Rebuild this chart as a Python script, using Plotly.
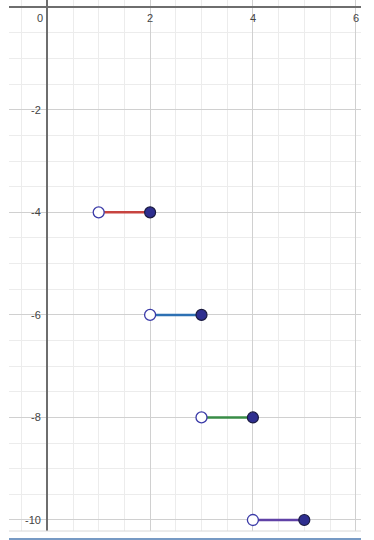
import plotly.graph_objects as go

# data
starts = [1, 2, 3, 4]
ends = [2, 3, 4, 5]
levels = [-4, -6, -8, -10]
colors = ["#c74440", "#2d70b3", "#388c46", "#6042a6"]
x_tick_vals = [0, 2, 4, 6]
y_tick_vals = [-2, -4, -6, -8, -10]

fig = go.Figure()

for a, b, y, c in zip(starts, ends, levels, colors):
    fig.add_trace(go.Scatter(x=[a, b], y=[y, y], mode="lines",
                             line=dict(color=c, width=2.5), hoverinfo="skip"))

fig.add_trace(go.Scatter(x=starts, y=levels, mode="markers",
                         marker=dict(size=11, color="white",
                                     line=dict(color="#3b3ba8", width=1.3))))
fig.add_trace(go.Scatter(x=ends, y=levels, mode="markers",
                         marker=dict(size=11, color="#2e2e8f",
                                     line=dict(color="#1a1a40", width=1.2))))

font = dict(family="Liberation Sans, Arial, sans-serif", size=11, color="#444")
ann = []
for v in x_tick_vals:
    ann.append(dict(x=v, y=0, xref="x", yref="y", text=str(v), showarrow=False,
                    xanchor="center", yanchor="top", yshift=-3,
                    xshift=(-7 if v == 0 else 0), font=font))
for v in y_tick_vals:
    ann.append(dict(x=0, y=v, xref="x", yref="y", text=str(v), showarrow=False,
                    xanchor="right", yanchor="middle", xshift=-4, font=font))

fig.update_layout(
    width=374, height=540,
    margin=dict(l=9, r=13, t=0, b=9),
    paper_bgcolor="white", plot_bgcolor="white",
    showlegend=False,
    annotations=ann,
    xaxis=dict(range=[-0.745, 6.103], dtick=2, tick0=0, showticklabels=False,
               showgrid=True, gridcolor="#d0d0d0", gridwidth=1,
               minor=dict(dtick=0.5, showgrid=True, gridcolor="#ececec", gridwidth=1),
               zeroline=True, zerolinecolor="#6e6e6e", zerolinewidth=2,
               showline=False, ticks=""),
    yaxis=dict(range=[-10.215, 0.142], dtick=2, tick0=0, showticklabels=False,
               showgrid=True, gridcolor="#d0d0d0", gridwidth=1,
               minor=dict(dtick=0.5, showgrid=True, gridcolor="#ececec", gridwidth=1),
               zeroline=True, zerolinecolor="#6e6e6e", zerolinewidth=2,
               showline=False, ticks=""),
    shapes=[
        dict(type="line", xref="paper", yref="paper", x0=0, x1=1, y0=0, y1=0,
             line=dict(color="#d8d8d8", width=1)),
        dict(type="line", xref="paper", yref="paper", x0=0, x1=1, y0=-0.015, y1=-0.015,
             line=dict(color="#4a78b0", width=1.5)),
    ],
)

fig.write_html("out.html", config={"displayModeBar": False},
               post_script="document.body.style.margin='0px';document.body.style.overflow='hidden';")
